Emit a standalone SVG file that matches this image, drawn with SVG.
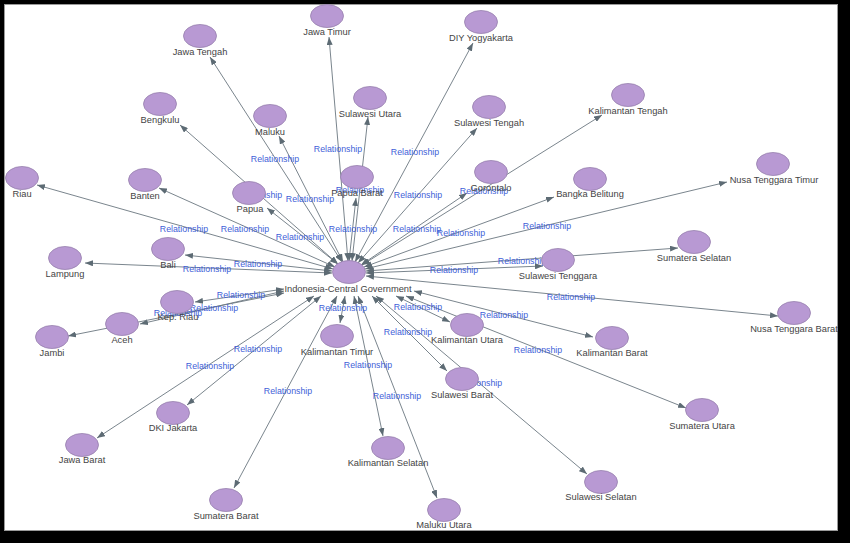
<svg xmlns="http://www.w3.org/2000/svg" width="850" height="543" viewBox="0 0 850 543">
<style>
.bg{fill:#000}
.canvas{fill:#fff;stroke:#9a9a9a;stroke-width:1}
.edge{stroke:#6b7780;stroke-width:0.9;fill:none;marker-end:url(#arr);marker-start:url(#arr)}
.rel{font-family:"Liberation Sans",Arial,sans-serif;font-size:8.8px;fill:#3f5fd8;text-anchor:middle}
.node ellipse{fill:#b899d3;stroke:#9780ad;stroke-width:0.8}
.node text{font-family:"Liberation Sans",Arial,sans-serif;font-size:9.3px;fill:#444;text-anchor:middle}
</style>
<defs>
<marker id="arr" markerUnits="userSpaceOnUse" markerWidth="8" markerHeight="6" refX="8" refY="3" orient="auto-start-reverse">
<path d="M0,0 L8,3 L0,6 z" fill="#5d6b74"/>
</marker>
</defs>
<rect class="bg" x="0" y="0" width="850" height="543"/>
<rect class="canvas" x="4.5" y="4.5" width="833" height="526"/>
<g id="connectors">
<line class="edge" x1="348" y1="261" x2="329" y2="37"/>
<line class="edge" x1="342" y1="262" x2="210" y2="57"/>
<line class="edge" x1="338" y1="264" x2="180" y2="125"/>
<line class="edge" x1="343" y1="262" x2="279" y2="136"/>
<line class="edge" x1="352" y1="261" x2="368" y2="117"/>
<line class="edge" x1="349" y1="261" x2="356" y2="198"/>
<line class="edge" x1="333" y1="269" x2="37" y2="185"/>
<line class="edge" x1="335" y1="267" x2="159" y2="188"/>
<line class="edge" x1="338" y1="264" x2="267" y2="208"/>
<line class="edge" x1="355" y1="262" x2="473" y2="43"/>
<line class="edge" x1="358" y1="263" x2="477" y2="128"/>
<line class="edge" x1="362" y1="265" x2="602" y2="115"/>
<line class="edge" x1="361" y1="265" x2="467" y2="193"/>
<line class="edge" x1="364" y1="267" x2="554" y2="197"/>
<line class="edge" x1="365" y1="269" x2="727" y2="182"/>
<line class="edge" x1="366" y1="273" x2="543" y2="266"/>
<line class="edge" x1="366" y1="271" x2="678" y2="248"/>
<line class="edge" x1="366" y1="276" x2="778" y2="316"/>
<line class="edge" x1="396" y1="296" x2="450" y2="322"/>
<line class="edge" x1="414" y1="291" x2="593" y2="337"/>
<line class="edge" x1="406" y1="296" x2="686" y2="408"/>
<line class="edge" x1="376" y1="296" x2="587" y2="474"/>
<line class="edge" x1="372" y1="296" x2="447" y2="371"/>
<line class="edge" x1="358" y1="296" x2="437" y2="498"/>
<line class="edge" x1="354" y1="296" x2="383" y2="436"/>
<line class="edge" x1="337" y1="296" x2="234" y2="488"/>
<line class="edge" x1="314" y1="296" x2="97" y2="438"/>
<line class="edge" x1="321" y1="296" x2="187" y2="405"/>
<line class="edge" x1="345" y1="296" x2="340" y2="323"/>
<line class="edge" x1="332" y1="273" x2="85" y2="263"/>
<line class="edge" x1="332" y1="271" x2="185" y2="255"/>
<line class="edge" x1="284" y1="289" x2="195" y2="302"/>
<line class="edge" x1="284" y1="291" x2="140" y2="324"/>
<line class="edge" x1="284" y1="293" x2="68" y2="336"/>
</g>
<g id="edge-labels">
<text class="rel" x="275" y="162">Relationship</text>
<text class="rel" x="338" y="152">Relationship</text>
<text class="rel" x="415" y="155">Relationship</text>
<text class="rel" x="258" y="198">Relationship</text>
<text class="rel" x="310" y="202">Relationship</text>
<text class="rel" x="360" y="193">Relationship</text>
<text class="rel" x="418" y="198">Relationship</text>
<text class="rel" x="484" y="194">Relationship</text>
<text class="rel" x="184" y="232">Relationship</text>
<text class="rel" x="245" y="232">Relationship</text>
<text class="rel" x="300" y="240">Relationship</text>
<text class="rel" x="353" y="232">Relationship</text>
<text class="rel" x="417" y="232">Relationship</text>
<text class="rel" x="461" y="236">Relationship</text>
<text class="rel" x="547" y="229">Relationship</text>
<text class="rel" x="258" y="267">Relationship</text>
<text class="rel" x="207" y="272">Relationship</text>
<text class="rel" x="454" y="273">Relationship</text>
<text class="rel" x="522" y="264">Relationship</text>
<text class="rel" x="241" y="298">Relationship</text>
<text class="rel" x="214" y="311">Relationship</text>
<text class="rel" x="178" y="316">Relationship</text>
<text class="rel" x="343" y="311">Relationship</text>
<text class="rel" x="418" y="310">Relationship</text>
<text class="rel" x="504" y="318">Relationship</text>
<text class="rel" x="408" y="335">Relationship</text>
<text class="rel" x="538" y="353">Relationship</text>
<text class="rel" x="571" y="300">Relationship</text>
<text class="rel" x="258" y="352">Relationship</text>
<text class="rel" x="210" y="369">Relationship</text>
<text class="rel" x="288" y="394">Relationship</text>
<text class="rel" x="368" y="368">Relationship</text>
<text class="rel" x="397" y="399">Relationship</text>
<text class="rel" x="478" y="386">Relationship</text>
</g>
<g id="node-center" class="node"><ellipse cx="349" cy="272" rx="16.5" ry="11.5"/><text x="348" y="292">Indonesia-Central Government</text></g>
<g id="node-jawa-timur" class="node"><ellipse cx="327" cy="16" rx="16.5" ry="11.5"/><text x="327" y="35">Jawa Timur</text></g>
<g id="node-jawa-tengah" class="node"><ellipse cx="200" cy="36" rx="16.5" ry="11.5"/><text x="200" y="55">Jawa Tengah</text></g>
<g id="node-bengkulu" class="node"><ellipse cx="160" cy="104" rx="16.5" ry="11.5"/><text x="160" y="123">Bengkulu</text></g>
<g id="node-maluku" class="node"><ellipse cx="270" cy="116" rx="16.5" ry="11.5"/><text x="270" y="135">Maluku</text></g>
<g id="node-sulawesi-utara" class="node"><ellipse cx="370" cy="98" rx="16.5" ry="11.5"/><text x="370" y="117">Sulawesi Utara</text></g>
<g id="node-riau" class="node"><ellipse cx="22" cy="178" rx="16.5" ry="11.5"/><text x="22" y="197">Riau</text></g>
<g id="node-banten" class="node"><ellipse cx="145" cy="180" rx="16.5" ry="11.5"/><text x="145" y="199">Banten</text></g>
<g id="node-papua" class="node"><ellipse cx="249" cy="193" rx="16.5" ry="11.5"/><text x="250" y="212">Papua</text></g>
<g id="node-papua-barat" class="node"><ellipse cx="357" cy="177" rx="16.5" ry="11.5"/><text x="357" y="196">Papua Barat</text></g>
<g id="node-diy-yogyakarta" class="node"><ellipse cx="481" cy="22" rx="16.5" ry="11.5"/><text x="481" y="41">DIY Yogyakarta</text></g>
<g id="node-sulawesi-tengah" class="node"><ellipse cx="489" cy="107" rx="16.5" ry="11.5"/><text x="489" y="126">Sulawesi Tengah</text></g>
<g id="node-kalimantan-tengah" class="node"><ellipse cx="628" cy="95" rx="16.5" ry="11.5"/><text x="628" y="114">Kalimantan Tengah</text></g>
<g id="node-gorontalo" class="node"><ellipse cx="491" cy="172" rx="16.5" ry="11.5"/><text x="491" y="191">Gorontalo</text></g>
<g id="node-bangka-belitung" class="node"><ellipse cx="590" cy="179" rx="16.5" ry="11.5"/><text x="590" y="197">Bangka Belitung</text></g>
<g id="node-ntt" class="node"><ellipse cx="773" cy="164" rx="16.5" ry="11.5"/><text x="774" y="183">Nusa Tenggara Timur</text></g>
<g id="node-sulawesi-tenggara" class="node"><ellipse cx="558" cy="260" rx="16.5" ry="11.5"/><text x="558" y="279">Sulawesi Tenggara</text></g>
<g id="node-sumatera-selatan" class="node"><ellipse cx="694" cy="242" rx="16.5" ry="11.5"/><text x="694" y="261">Sumatera Selatan</text></g>
<g id="node-ntb" class="node"><ellipse cx="794" cy="313" rx="16.5" ry="11.5"/><text x="794" y="332">Nusa Tenggara Barat</text></g>
<g id="node-kalimantan-utara" class="node"><ellipse cx="467" cy="325" rx="16.5" ry="11.5"/><text x="467" y="343">Kalimantan Utara</text></g>
<g id="node-kalimantan-barat" class="node"><ellipse cx="612" cy="338" rx="16.5" ry="11.5"/><text x="612" y="356">Kalimantan Barat</text></g>
<g id="node-sumatera-utara" class="node"><ellipse cx="702" cy="410" rx="16.5" ry="11.5"/><text x="702" y="429">Sumatera Utara</text></g>
<g id="node-sulawesi-selatan" class="node"><ellipse cx="601" cy="482" rx="16.5" ry="11.5"/><text x="601" y="500">Sulawesi Selatan</text></g>
<g id="node-sulawesi-barat" class="node"><ellipse cx="462" cy="379" rx="16.5" ry="11.5"/><text x="462" y="398">Sulawesi Barat</text></g>
<g id="node-maluku-utara" class="node"><ellipse cx="444" cy="510" rx="16.5" ry="11.5"/><text x="444" y="528">Maluku Utara</text></g>
<g id="node-kalimantan-selatan" class="node"><ellipse cx="388" cy="448" rx="16.5" ry="11.5"/><text x="388" y="466">Kalimantan Selatan</text></g>
<g id="node-sumatera-barat" class="node"><ellipse cx="226" cy="500" rx="16.5" ry="11.5"/><text x="226" y="519">Sumatera Barat</text></g>
<g id="node-jawa-barat" class="node"><ellipse cx="82" cy="445" rx="16.5" ry="11.5"/><text x="82" y="463">Jawa Barat</text></g>
<g id="node-dki-jakarta" class="node"><ellipse cx="173" cy="413" rx="16.5" ry="11.5"/><text x="173" y="431">DKI Jakarta</text></g>
<g id="node-kalimantan-timur" class="node"><ellipse cx="337" cy="336" rx="16.5" ry="11.5"/><text x="337" y="355">Kalimantan Timur</text></g>
<g id="node-lampung" class="node"><ellipse cx="65" cy="258" rx="16.5" ry="11.5"/><text x="65" y="277">Lampung</text></g>
<g id="node-bali" class="node"><ellipse cx="168" cy="249" rx="16.5" ry="11.5"/><text x="168" y="268">Bali</text></g>
<g id="node-kep-riau" class="node"><ellipse cx="177" cy="302" rx="16.5" ry="11.5"/><text x="178" y="320">Kep. Riau</text></g>
<g id="node-aceh" class="node"><ellipse cx="122" cy="324" rx="16.5" ry="11.5"/><text x="122" y="343">Aceh</text></g>
<g id="node-jambi" class="node"><ellipse cx="52" cy="337" rx="16.5" ry="11.5"/><text x="52" y="356">Jambi</text></g>
</svg>
